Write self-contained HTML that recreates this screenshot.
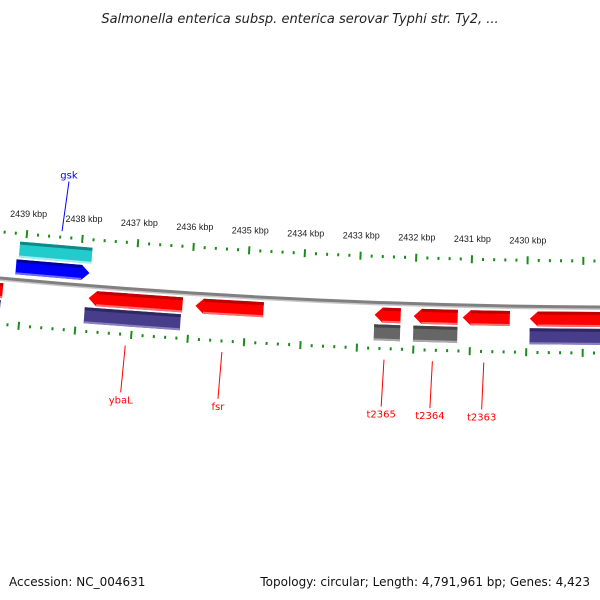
<!DOCTYPE html>
<html><head><meta charset="utf-8"><style>
html,body{margin:0;padding:0;background:#fff;}
svg{display:block;font-family:"Liberation Sans",sans-serif;}
</style></head><body>
<svg id="chart" width="600" height="600" viewBox="0 0 600 600" xmlns="http://www.w3.org/2000/svg">
<rect width="600" height="600" fill="#fff"/>
<text x="300" y="23" text-anchor="middle" font-size="13" font-style="italic" fill="#222" font-family="DejaVu Sans, sans-serif">Salmonella enterica subsp. enterica serovar Typhi str. Ty2, ...</text>
<g id="ticks"></g>
<g id="backbone"></g>
<g id="features"></g>
<g id="labels"></g>
<text x="9" y="586" font-size="12" fill="#111" font-family="DejaVu Sans, sans-serif">Accession: NC_004631</text>
<text x="590" y="586" text-anchor="end" font-size="12" fill="#111" font-family="DejaVu Sans, sans-serif">Topology: circular; Length: 4,791,961 bp; Genes: 4,423</text>
</svg>
<script>
// data
const tickKbp = [2428,2429,2430,2431,2432,2433,2434,2435,2436,2437,2438,2439,2440];
const labelKbp = [2430,2431,2432,2433,2434,2435,2436,2437,2438,2439];
const featStart = [2437824,2437806,2436130,2436148,2434686,2432244,2432244,2431228,2431228,2430301,2428300,2428300,2439339,2439357];
const featEnd   = [2439143,2439107,2437806,2437859,2435898,2432708,2432708,2432012,2432012,2431139,2429945,2429945,2440200,2440200];
const featStrand= [1,1,-1,-1,-1,-1,-1,-1,-1,-1,-1,-1,-1,-1];
const featType  = ['cds','gene','cds','gene','cds','cds','rna','cds','rna','cds','cds','gene','cds','gene'];
const geneNames = ['gsk','ybaL','fsr','t2365','t2364','t2363'];
const geneLabelBp = [2438376,2437093,2435381,2432512,2431656,2430747];
const geneLabelStrand = [1,-1,-1,-1,-1,-1];

const NS="http://www.w3.org/2000/svg";
const R=6858, CX=632, CY=307.1-6858, PX=0.0561;
function pt(bp, off){
  const s = 22 + (2439000-bp)*PX;
  const th=(s-CX)/R, r=R-off;
  return [CX + r*Math.sin(th), CY + r*Math.cos(th)];
}
function mk(tag, attrs, parent){
  const e=document.createElementNS(NS,tag);
  for(const k in attrs) e.setAttribute(k, attrs[k]);
  parent.appendChild(e); return e;
}
function poly(pts){return pts.map(p=>p[0].toFixed(1)+','+p[1].toFixed(1)).join(' ');}

// backbone
const bb=document.getElementById('backbone');
const bbc=mk('circle',{cx:CX,cy:CY+1.5,r:R,fill:'none',stroke:'#c8c8c8','stroke-width':3},bb);


const bbm=mk('circle',{cx:CX,cy:CY,r:R,fill:'none',stroke:'#808080','stroke-width':3},bb);



// ticks
const tg=document.getElementById('ticks');
for(let k=tickKbp[0]*1000;k<=tickKbp[tickKbp.length-1]*1000;k+=200){
  const major = (k%1000===0);
  const half = major?4:1.5;
  [46,-46].forEach(o=>{
    const a=pt(k,o-half), b=pt(k,o+half);
    const l=mk('line',{x1:a[0],y1:a[1],x2:b[0],y2:b[1],stroke:'#1a8c1a','stroke-width':2},tg);
    
    
  });
}
labelKbp.forEach(k=>{
  const p=pt(k*1000,66);
  const t=mk('text',{x:p[0],y:p[1]+3,'text-anchor':'middle','font-size':9,fill:'#222'},tg);
  t.textContent=k+' kbp';
  
  
});

// features
const fg=document.getElementById('features');
const colors={cds:{up:'#0000ff',down:'#ff0000'},gene:{up:'#22cccc',down:'#483d8b'},rna:{up:'#666',down:'#666'}};
const dark={'#0000ff':'#0000a0','#ff0000':'#c00000','#22cccc':'#118888','#483d8b':'#2e2760','#666':'#444'};
const light={'#0000ff':'#6a6aff','#ff0000':'#ff7070','#22cccc':'#a0eeee','#483d8b':'#8a82c0','#666':'#aaa'};
for(let i=0;i<featStart.length;i++){
  const st=featStrand[i], ty=featType[i];
  const inner = (ty==='cds');
  let lo = inner?5:22, hi = inner?20:38;
  if(st<0){const a=-hi, b=-lo; lo=a; hi=b;}
  const col = colors[ty][st>0?'up':'down'];
  const s=featStart[i], e=featEnd[i];
  let pts;
  const head=140, mid=(lo+hi)/2;
  if(ty==='cds' && st>0){
    pts=[pt(e,lo),pt(s+head,lo),pt(s,mid),pt(s+head,hi),pt(e,hi)];
  } else if(ty==='cds'){
    pts=[pt(s,lo),pt(e-head,lo),pt(e,mid),pt(e-head,hi),pt(s,hi)];
  } else {
    pts=[pt(s,lo),pt(e,lo),pt(e,hi),pt(s,hi)];
  }
  const g=mk('g',{},fg);
  
  
  mk('polygon',{points:poly(pts),fill:col},g);
  const topA=hi-3, botB=lo+2;
  const sL = (ty==='cds'&&st<0)?s:(ty==='cds'?s+head:s);
  const eR = (ty==='cds'&&st<0)?e-head:e;
  mk('polygon',{points:poly([pt(sL,topA),pt(eR,topA),pt(eR,hi),pt(sL,hi)]),fill:dark[col]},g);
  mk('polygon',{points:poly([pt(sL,lo),pt(eR,lo),pt(eR,botB),pt(sL,botB)]),fill:light[col]},g);
}

// gene labels
const lg=document.getElementById('labels');
for(let i=0;i<geneNames.length;i++){
  const st=geneLabelStrand[i];
  const col = st>0?'#0000ff':'#ff0000';
  const a = st>0?pt(geneLabelBp[i],52):pt(geneLabelBp[i],-57);
  const b = st>0?pt(geneLabelBp[i]-50,102):pt(geneLabelBp[i]+20,-104);
  const l=mk('line',{x1:a[0],y1:a[1],x2:b[0],y2:b[1],stroke:col,'stroke-width':1},lg);
  
  
  const t=mk('text',{x:b[0],y:st>0?b[1]-3:b[1]+11,'text-anchor':'middle','font-size':10,fill:col,'font-family':'DejaVu Sans, sans-serif'},lg);
  t.textContent=geneNames[i];
  
  
}
</script>
</body></html>
